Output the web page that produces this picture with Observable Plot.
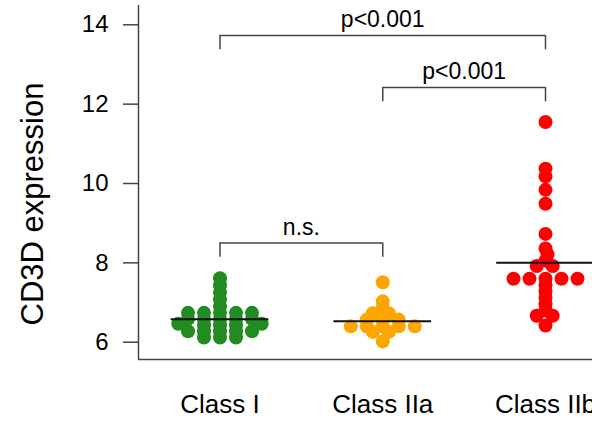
<!DOCTYPE html>
<html><head><meta charset="utf-8">
<script src="https://cdn.jsdelivr.net/npm/d3@7"></script>
<script src="https://cdn.jsdelivr.net/npm/@observablehq/plot@0.6"></script>
<style>
html,body{margin:0;padding:0;background:#fff;overflow:hidden;}
[aria-label="y-title"] text, text[aria-label="y-title"]{letter-spacing:3.5px;}
</style></head><body><div id="chart"></div>
<script>
// ---- data ----
const classes = ["Class I", "Class IIa", "Class IIb"];
const colors = ["#228B22", "#FFA500", "#FF0000"];
const classI = [7.61, 7.43, 7.25, 7.08, 6.90, 6.74, 6.74, 6.74, 6.74, 6.74,
  6.585, 6.585, 6.585, 6.585, 6.585, 6.465, 6.465, 6.43, 6.43, 6.43,
  6.275, 6.275, 6.275, 6.275, 6.275, 6.12, 6.12, 6.12];
const classIIa = [7.51, 7.03, 6.87, 6.73, 6.73, 6.57, 6.57, 6.57, 6.40, 6.40, 6.40, 6.40, 6.40,
  6.26, 6.26, 6.02];
const classIIb = [11.55, 10.37, 10.18, 9.84, 9.49, 8.73, 8.36, 8.21, 8.055, 7.92, 7.92,
  7.60, 7.60, 7.60, 7.60, 7.60, 7.44, 7.28, 7.12, 6.96, 6.80, 6.665, 6.665, 6.42];
const means = [6.58, 6.53, 8.00];
const yTicks = [6, 8, 10, 12, 14];
const compFrom = [0, 1, 0];
const compTo = [2, 2, 1];
const compLevel = [13.73, 12.42, 8.50];
const compLabel = ["p<0.001", "p<0.001", "n.s."];
const yTitle = "CD3D expression";

// ---- layout constants ----
const W = 592, H = 425, ML = 138, MT = 5, MB = 66;
const classPx = 162.75, firstCenterPx = 219.5;
const xmin = (ML - firstCenterPx) / classPx, xmax = (W - firstCenterPx) / classPx;
const pxPerUnit = 39.675;
const ymin = 6 - (359 - 341.7) / pxPerUnit, ymax = 14 + (24.3 - MT) / pxPerUnit;
const slotPx = 16, ysizePx = 6;

// beeswarm "swarm" layout (descending priority), offsets in slot units
function swarm(values, ysize) {
  const order = d3.range(values.length).sort((a, b) => values[b] - values[a] || a - b);
  const placed = [], out = new Array(values.length);
  for (const i of order) {
    const y = values[i] / ysize;
    const near = placed.filter(p => Math.abs(p.y - y) < 1);
    const cands = [0];
    for (const p of near) cands.push(p.x + Math.sqrt(1 - (p.y - y) ** 2));
    for (const p of near) cands.push(p.x - Math.sqrt(1 - (p.y - y) ** 2));
    const ok = cands.filter(c => near.every(p => (p.x - c) ** 2 + (p.y - y) ** 2 >= 0.999));
    let best = ok[0];
    for (const c of ok) if (Math.abs(c) < Math.abs(best) - 1e-9) best = c;
    placed.push({x: best, y});
    out[i] = best;
  }
  return out;
}

const groups = [classI, classIIa, classIIb];
const points = groups.flatMap((vals, gi) => {
  const off = swarm(vals, ysizePx / pxPerUnit);
  return vals.map((v, i) => ({cls: classes[gi], x: gi + off[i] * slotPx / classPx, y: v}));
});
const meanRows = means.map((m, i) => ({i, m}));
const brackets = compFrom.map((f, i) => ({x1: f, x2: compTo[i], y: compLevel[i], label: compLabel[i]}));
const legDrop = 0.36;

const chart = Plot.plot({
  width: W, height: H,
  marginLeft: ML, marginRight: 0, marginTop: MT, marginBottom: MB,
  style: {fontFamily: "'Liberation Sans', Arial, sans-serif", fontSize: "23px", color: "#000",
    background: "#fff", maxWidth: "none", overflow: "hidden"},
  x: {domain: [xmin, xmax], axis: null},
  y: {domain: [ymin, ymax], axis: null},
  color: {domain: classes, range: colors, type: "ordinal"},
  marks: [
    Plot.ruleX([xmin], {stroke: "#444", strokeWidth: 1.5}),
    Plot.ruleY([ymin], {stroke: "#444", strokeWidth: 1.5}),
    Plot.axisY({ticks: yTicks, tickSize: 15, tickPadding: 15, fontSize: 24, stroke: "#444",
      strokeWidth: 1.5, label: null}),
    Plot.axisX({ticks: [0, 1, 2], tickSize: 0, tickPadding: 35, tickFormat: i => classes[i],
      fontSize: 26, label: null}),
    Plot.dot(points, {x: "x", y: "y", r: 7, fill: "cls", stroke: null}),
    Plot.ruleY(meanRows, {y: "m", x1: d => d.i - 0.3, x2: d => d.i + 0.3, stroke: "#111", strokeWidth: 2}),
    Plot.ruleY(brackets, {y: "y", x1: "x1", x2: "x2", stroke: "#444", strokeWidth: 1.5}),
    Plot.ruleX(brackets, {x: "x1", y1: "y", y2: d => d.y - legDrop, stroke: "#444", strokeWidth: 1.5}),
    Plot.ruleX(brackets, {x: "x2", y1: "y", y2: d => d.y - legDrop, stroke: "#444", strokeWidth: 1.5}),
    Plot.text(brackets, {x: d => (d.x1 + d.x2) / 2, y: "y", text: "label", lineAnchor: "bottom",
      dy: -8.5, fontSize: 23}),
    Plot.text([yTitle], {text: d => d, frameAnchor: "left", rotate: -90, textAnchor: "start",
      dx: -105, dy: 143, fontSize: 31, ariaLabel: "y-title"})
  ]
});
document.getElementById("chart").appendChild(chart);
</script></body></html>
